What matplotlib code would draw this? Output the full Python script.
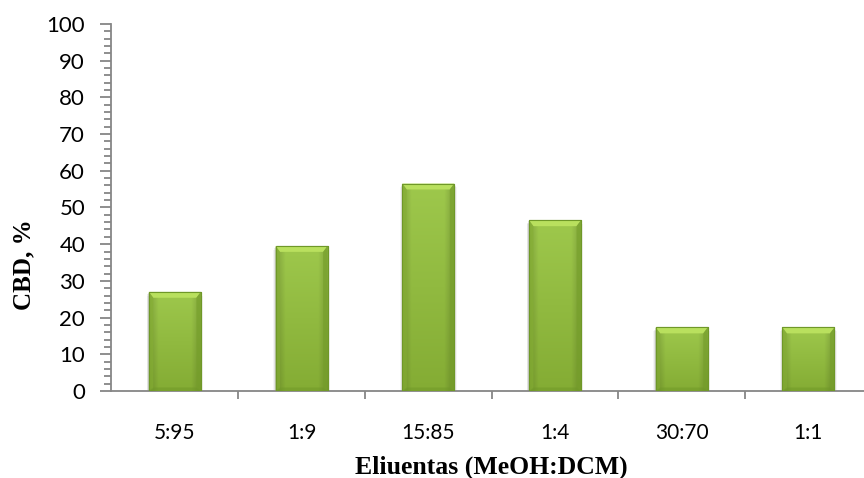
import numpy as np
import matplotlib
matplotlib.use("Agg")
import matplotlib.pyplot as plt
from matplotlib.patches import Polygon, Rectangle
from matplotlib.ticker import MultipleLocator, FixedLocator

categories = ["5:95", "1:9", "15:85", "1:4", "30:70", "1:1"]
cbd = [27, 39.5, 56.5, 46.5, 17.3, 17.3]

axis_grey = "#868686"
bar_w = 0.41

fig = plt.figure(figsize=(8.64, 4.78), dpi=100)
ax = fig.add_axes([0.129, 0.182, 0.88, 0.768])

x = np.arange(len(categories))

# vertical gradient for the bar body (light at top, darker at bottom)
grad = np.linspace(0, 1, 256).reshape(-1, 1)
top_c = np.array([158, 200, 76]) / 255
bot_c = np.array([132, 172, 52]) / 255
img = top_c * (1 - grad[..., None]) + bot_c * grad[..., None]
img = np.repeat(img, 8, axis=1)
# darken the side edges a bit
edge = np.ones(8)
edge[0] = edge[-1] = 0.88
img = img * edge[None, :, None]

for xi, v in zip(x, cbd):
    x0, x1 = xi - bar_w / 2, xi + bar_w / 2
    # soft shadow
    for k, a in enumerate([0.10, 0.07, 0.04]):
        d = 0.012 * (k + 1)
        ax.add_patch(Rectangle((x0 - d * 0.5, -0.4 * (k + 1)), bar_w + d, v + 0.2,
                               facecolor="black", alpha=a, lw=0, zorder=2))
    bar = ax.bar(xi, v, width=bar_w, color="#92bc3e", edgecolor="#6f9828",
                 linewidth=0.8, zorder=3)[0]
    im = ax.imshow(img, extent=(x0, x1, 0, v), aspect="auto", zorder=3.5,
                   interpolation="bilinear")
    im.set_clip_path(bar)
    # bevel at top
    bh = 1.6
    bx = 0.035
    ax.add_patch(Polygon([(x0, v), (x1, v), (x1 - bx, v - bh), (x0 + bx, v - bh)],
                         closed=True, facecolor="#b9e05e", edgecolor="none", zorder=4))
    ax.add_patch(Polygon([(x0, v), (x0 + bx, v - bh), (x0 + bx, bh * 0.3), (x0, 0)],
                         closed=True, facecolor="#86b034", edgecolor="none", zorder=4, alpha=0.6))
    ax.add_patch(Polygon([(x1, v), (x1 - bx, v - bh), (x1 - bx, bh * 0.3), (x1, 0)],
                         closed=True, facecolor="#76a02a", edgecolor="none", zorder=4, alpha=0.6))
    ax.add_patch(Polygon([(x0, 0), (x1, 0), (x1 - bx, bh * 0.6), (x0 + bx, bh * 0.6)],
                         closed=True, facecolor="#6f9828", edgecolor="none", zorder=4, alpha=0.5))
    ax.add_patch(Rectangle((x0, 0), bar_w, v, facecolor="none", edgecolor="#6f9828",
                           lw=0.8, zorder=5))

ax.set_xlim(-0.5, len(categories) - 0.5)
ax.set_ylim(0, 100)

ax.yaxis.set_major_locator(MultipleLocator(10))
ax.yaxis.set_minor_locator(MultipleLocator(2))
ax.set_xticks(x)
ax.set_xticklabels(categories)
ax.xaxis.set_minor_locator(FixedLocator(np.arange(0.5, len(categories) - 0.5, 1)))

for s in ["top", "right"]:
    ax.spines[s].set_visible(False)
for s in ["left", "bottom"]:
    ax.spines[s].set_color(axis_grey)
    ax.spines[s].set_linewidth(1.3)

ax.tick_params(axis="y", which="major", direction="out", length=8, width=1.3,
               color=axis_grey, labelsize=16, pad=11)
ax.tick_params(axis="y", which="minor", direction="out", length=5, width=1.3, color=axis_grey)
ax.tick_params(axis="x", which="major", length=0, labelsize=15, pad=23)
ax.tick_params(axis="x", which="minor", direction="out", length=6, width=1.3, color=axis_grey)

for lab in ax.get_xticklabels() + ax.get_yticklabels():
    lab.set_fontfamily("Lato")

ax.set_ylabel("CBD, %", fontsize=18, fontweight="bold", family="Liberation Serif")
ax.set_xlabel("Eliuentas (MeOH:DCM)", fontsize=18.5, fontweight="bold",
              family="Liberation Serif")
ax.yaxis.set_label_coords(-0.1, 0.343)
ax.xaxis.set_label_coords(0.5, -0.175)

fig.savefig("out.png", dpi=100)
